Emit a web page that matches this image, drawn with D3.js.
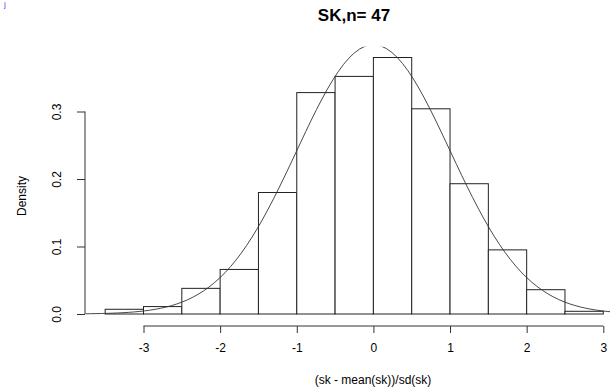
<!DOCTYPE html>
<html>
<head>
<meta charset="utf-8">
<script src="https://cdn.jsdelivr.net/npm/d3@7"></script>
<style>
  body { margin: 0; background: #fff; }
  text { font-family: "Liberation Sans", Arial, sans-serif; fill: #000; }
</style>
</head>
<body>
<div id="chart"></div>
<script>
// histogram bins (left edges) and densities
var binStarts = [-3.5, -3, -2.5, -2, -1.5, -1, -0.5, 0, 0.5, 1, 1.5, 2, 2.5];
var binWidth = 0.5;
var densities = [0.007, 0.011, 0.038, 0.066, 0.180, 0.328, 0.352, 0.380, 0.304, 0.193, 0.095, 0.036, 0.004];
var xTicks = [-3, -2, -1, 0, 1, 2, 3];
var yTicks = [0.0, 0.1, 0.2, 0.3];
var titleText = "SK,n= 47";
var xLabel = "(sk - mean(sk))/sd(sk)";
var yLabel = "Density";

var W = 610, H = 390;

var svg = d3.select("#chart").append("svg")
    .attr("width", W).attr("height", H);

// scales (R usr region: x -3.76..3.26, y -0.015..0.396)
var x = d3.scaleLinear().domain([-3, 3]).range([143.5, 603.3]);
var y = d3.scaleLinear().domain([0, 0.3]).range([314, 111.5]);
var usrX = [-3.76, 3.26], usrY = [-0.0152, 0.396];

// stray blue glyph in the corner of the original screenshot
svg.append("text")
    .attr("x", 4).attr("y", 7)
    .attr("font-size", "8px")
    .style("fill", "#3b3bd8")
    .text("j");

svg.append("defs").append("clipPath").attr("id", "plotclip")
  .append("rect")
    .attr("x", x(usrX[0])).attr("y", y(usrY[1]))
    .attr("width", x(usrX[1]) - x(usrX[0]))
    .attr("height", y(usrY[0]) - y(usrY[1]));

var plot = svg.append("g").attr("clip-path", "url(#plotclip)");

// bars
plot.selectAll("rect.bar")
    .data(binStarts)
  .enter().append("rect")
    .attr("class", "bar")
    .attr("x", function(d) { return x(d); })
    .attr("width", function(d) { return x(d + binWidth) - x(d); })
    .attr("y", function(d, i) { return y(densities[i]); })
    .attr("height", function(d, i) { return y(0) - y(densities[i]); })
    .attr("fill", "#fff")
    .attr("stroke", "#222")
    .attr("stroke-width", 1);

// normal density curve, like curve(dnorm, add=TRUE)
var curvePts = d3.range(0, 101).map(function(i) {
    var v = usrX[0] + (usrX[1] - usrX[0]) * i / 100;
    return [v, Math.exp(-v * v / 2) / Math.sqrt(2 * Math.PI)];
});
plot.append("path")
    .datum(curvePts)
    .attr("fill", "none")
    .attr("stroke", "#333")
    .attr("stroke-width", 0.9)
    .attr("d", d3.line()
        .x(function(d) { return x(d[0]); })
        .y(function(d) { return y(d[1]); }));

// x axis
var xAxis = svg.append("g")
    .attr("transform", "translate(0," + 326 + ")")
    .call(d3.axisBottom(x).tickValues(xTicks).tickSize(7).tickPadding(10)
        .tickFormat(d3.format("d")));
xAxis.select(".domain").attr("stroke", "#333").attr("d",
    "M" + x(xTicks[0]) + ",0H" + x(xTicks[xTicks.length - 1]));
xAxis.selectAll(".tick line").attr("stroke", "#333");
xAxis.selectAll(".tick text")
    .attr("font-size", "12px")
    .attr("font-family", "Liberation Sans, Arial, sans-serif")
    .text(function(d) { return d < 0 ? "-" + Math.abs(d) : d; });

// y axis
var yAxis = svg.append("g")
    .attr("transform", "translate(" + 85 + ",0)")
    .call(d3.axisLeft(y).tickValues(yTicks).tickSize(8)
        .tickFormat(d3.format(".1f")));
yAxis.select(".domain").attr("stroke", "#333").attr("d",
    "M0," + y(yTicks[0]) + "V" + y(yTicks[yTicks.length - 1]));
yAxis.selectAll(".tick line").attr("stroke", "#333");
yAxis.selectAll(".tick text")
    .attr("font-size", "12px")
    .attr("font-family", "Liberation Sans, Arial, sans-serif")
    .attr("text-anchor", "middle")
    .attr("x", 0).attr("dy", 0)
    .attr("transform", "translate(-24,0) rotate(-90)");

// title and axis labels
svg.append("text")
    .attr("x", 354).attr("y", 21)
    .attr("text-anchor", "middle")
    .attr("font-size", "17px")
    .attr("font-weight", "bold")
    .text(titleText);

svg.append("text")
    .attr("x", 373).attr("y", 384)
    .attr("text-anchor", "middle")
    .attr("font-size", "12px")
    .text(xLabel);

svg.append("text")
    .attr("transform", "translate(26,196) rotate(-90)")
    .attr("text-anchor", "middle")
    .attr("font-size", "12px")
    .text(yLabel);
</script>
</body>
</html>
